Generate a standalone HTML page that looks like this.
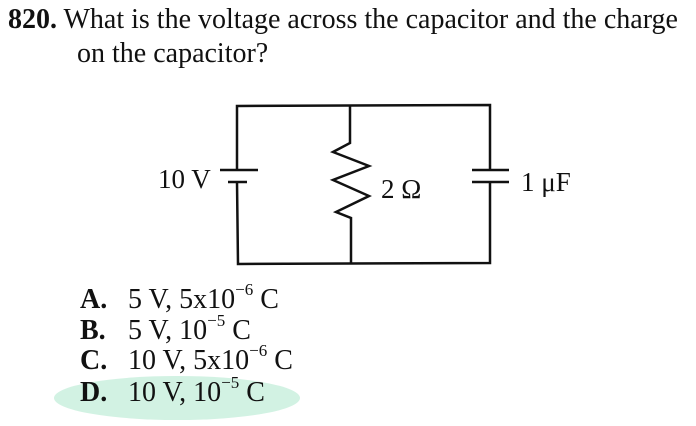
<!DOCTYPE html>
<html><head><style>
body{margin:0;width:696px;height:426px;background:#fff;overflow:hidden;position:relative;font-family:"Liberation Serif",serif;color:#111}
.t{position:absolute;white-space:nowrap;font-size:28px}
.a{font-size:28px}
.a b{display:inline-block;width:48px}
sup{font-size:17px;position:relative;top:-4px;vertical-align:top}
</style></head><body>
<svg width="696" height="426" style="position:absolute;left:0;top:0">
<ellipse cx="177" cy="398" rx="123" ry="22" fill="#d2f2e3"/>
<g stroke="#111" stroke-width="2.5" fill="none">
<polyline points="237,170 237,106 490,105 490,170"/>
<polyline points="237,182 238,264 490,263 490,182"/>
<line x1="220" y1="170" x2="258" y2="170"/>
<line x1="228" y1="182" x2="247" y2="182"/>
<line x1="472" y1="170" x2="509" y2="170"/>
<line x1="472" y1="182" x2="509" y2="182"/>
<polyline points="350,106 350,143 333,152 369,166 333,180 369,196 336,212 351,218 351,264"/>
</g>
</svg>
<div class="t" style="left:8px;top:4px"><b>820.</b> What is the voltage across the capacitor and the charge</div>
<div class="t" style="left:77px;top:38px">on the capacitor?</div>
<div class="t" style="left:158px;top:164px;font-size:27px">10 V</div>
<div class="t" style="left:381px;top:174px;font-size:27px">2 Ω</div>
<div class="t" style="left:521px;top:167px;font-size:27px">1 μF</div>
<div class="t a" style="left:80px;top:284px"><b>A.</b>5 V, 5x10<sup>−6</sup> C</div>
<div class="t a" style="left:80px;top:315px"><b>B.</b>5 V, 10<sup>−5</sup> C</div>
<div class="t a" style="left:80px;top:345px"><b>C.</b>10 V, 5x10<sup>−6</sup> C</div>
<div class="t a" style="left:80px;top:377px"><b>D.</b>10 V, 10<sup>−5</sup> C</div>
</body></html>
